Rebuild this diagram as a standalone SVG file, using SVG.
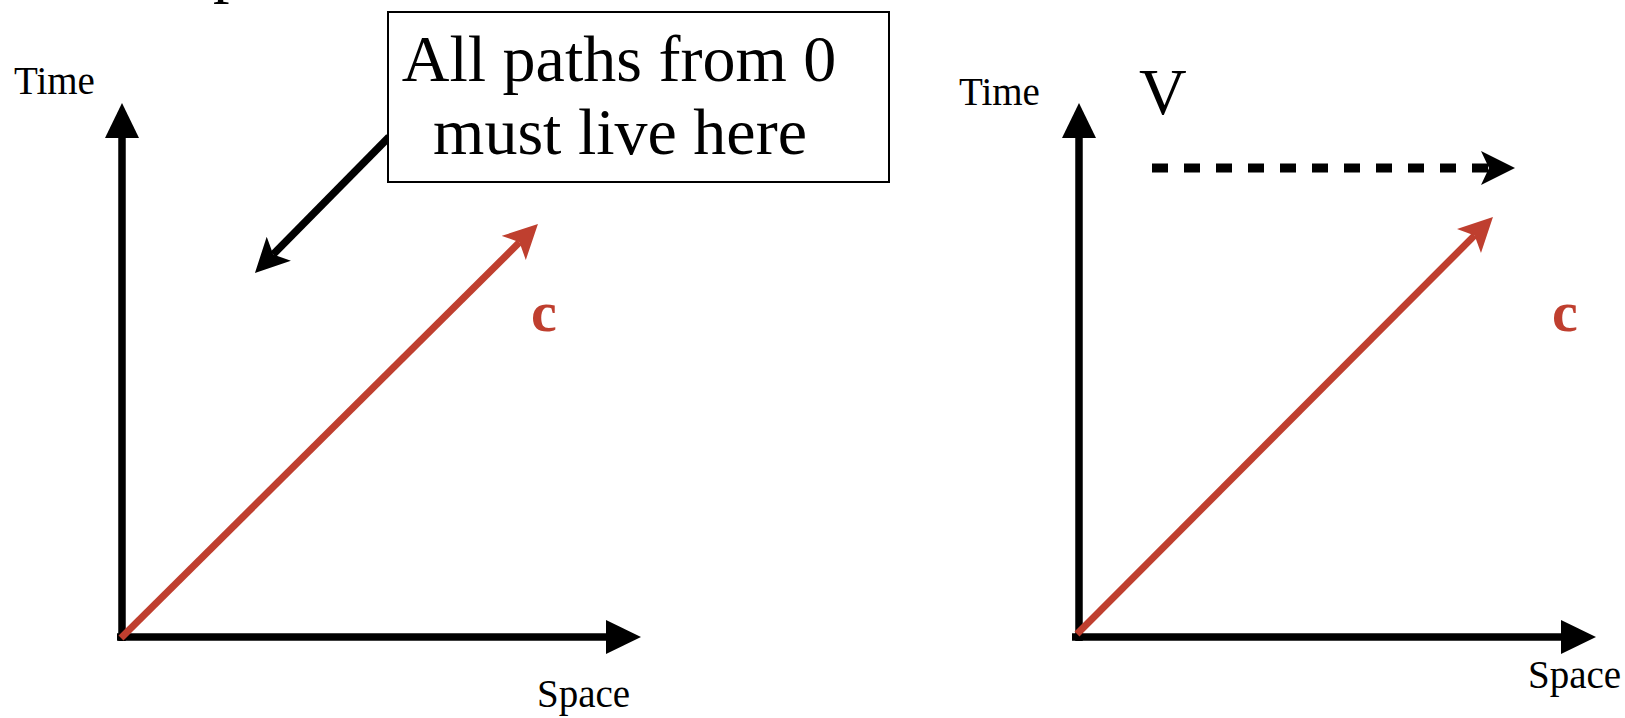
<svg xmlns="http://www.w3.org/2000/svg" width="1625" height="718" viewBox="0 0 1625 718">
<style>
text{font-family:"Liberation Serif","Times New Roman",serif;fill:#000}
.lbl{font-size:39px}
.box-t{font-size:66px;text-anchor:middle}
.c{font-size:58px;font-weight:bold;fill:#BF3F2F}
.ax{stroke:#000;stroke-width:7.5;fill:none}
.red{stroke:#BF3F2F;stroke-width:7;fill:none}
</style>
<defs>
<marker id="ahBlack" markerUnits="userSpaceOnUse" markerWidth="36" markerHeight="36" viewBox="0 0 36 36" refX="1" refY="17" orient="auto">
<path d="M0,0 L35,17 L0,34 Z" fill="#000"/>
</marker>
<marker id="ahNotch" markerUnits="userSpaceOnUse" markerWidth="36" markerHeight="36" viewBox="0 0 36 36" refX="8" refY="17" orient="auto">
<path d="M0,0 L34,17 L0,34 L8,17 Z" fill="#000"/>
</marker>
<marker id="ahRed" markerUnits="userSpaceOnUse" markerWidth="36" markerHeight="36" viewBox="0 0 36 36" refX="8" refY="17" orient="auto">
<path d="M0,0 L34,17 L0,34 L8,17 Z" fill="#BF3F2F"/>
</marker>
</defs>
<g id="connectors">
<line class="ax" x1="122" y1="641" x2="122" y2="137" marker-end="url(#ahBlack)"/>
<line class="ax" x1="117" y1="637" x2="607" y2="637" marker-end="url(#ahBlack)"/>
<line class="red" x1="121" y1="638" x2="519.5" y2="242.3" marker-end="url(#ahRed)"/>
<line class="ax" x1="389" y1="137" x2="273.2" y2="254.4" marker-end="url(#ahNotch)"/>
<line class="ax" x1="1079" y1="641" x2="1079" y2="137" marker-end="url(#ahBlack)"/>
<line class="ax" x1="1072" y1="637" x2="1562" y2="637" marker-end="url(#ahBlack)"/>
<line class="red" x1="1077" y1="634" x2="1474.6" y2="235.4" marker-end="url(#ahRed)"/>
<line x1="1152" y1="168" x2="1489" y2="168" stroke="#000" stroke-width="9" stroke-dasharray="16 16" marker-end="url(#ahNotch)"/>
</g>
<g id="node-title">
<text style="font-size:66px" x="213" y="-10">p</text>
</g>
<g id="node-box">
<rect x="388" y="12" width="501" height="170" fill="#fff" stroke="#000" stroke-width="2"/>
<text class="box-t" x="619" y="81">All paths from 0</text>
<text class="box-t" x="620" y="154">must live here</text>
</g>
<g id="node-left-labels">
<text class="lbl" x="14" y="94">Time</text>
<text class="lbl" x="537" y="707">Space</text>
<text class="c" x="531" y="331">c</text>
</g>
<g id="node-right-labels">
<text class="lbl" x="959" y="105">Time</text>
<text class="lbl" x="1528" y="688">Space</text>
<text style="font-size:66px" x="1139" y="114">V</text>
<text class="c" x="1552" y="331">c</text>
</g>
</svg>
